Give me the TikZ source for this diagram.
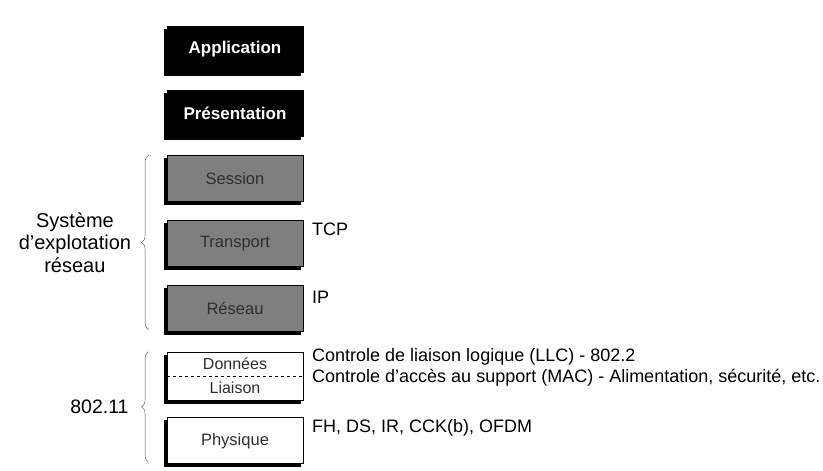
\documentclass[tikz,border=0pt]{standalone}
\usepackage{fontspec}
\setmainfont{Liberation Sans}
\usepackage{tikz}
\usetikzlibrary{positioning, calc, decorations.pathreplacing}

\definecolor{layergray}{HTML}{7F7F7F}
\definecolor{labelgray}{HTML}{2E2E2E}

\begin{document}
\begin{tikzpicture}[
  x=1pt, y=-1pt,
  node distance=18pt,
  layer/.style={rectangle, draw, thick, minimum width=136pt, minimum height=46pt,
    inner sep=0pt, preaction={draw, fill=black,
    transform canvas={shift={(-3pt,-3pt)}}}},
  toplayer/.style={layer, fill=black, text=white,
    font=\fontsize{17}{19}\selectfont\bfseries},
  oslayer/.style={layer, fill=layergray, text=labelgray,
    font=\fontsize{16.5}{18}\selectfont},
  wifilayer/.style={layer, fill=white, text=labelgray,
    font=\fontsize{16.5}{18}\selectfont},
  side/.style={font=\fontsize{18}{20}\selectfont, inner sep=0pt, anchor=west},
  group/.style={decorate, decoration={brace, amplitude=7pt}, thin, black!70}
]
  \useasboundingbox (0,0) rectangle (823,471);

  \node[toplayer] (app) at (235,49) {Application};
  \node[toplayer, below=of app] (pres) {Présentation};
  \node[oslayer, below=of pres] (sess) {Session};
  \node[oslayer, below=of sess] (trans) {Transport};
  \node[oslayer, below=of trans] (net) {Réseau};
  \node[wifilayer, below=20pt of net, minimum height=48pt] (link) {};
  \node[wifilayer, below=17pt of link] (phys) {Physique};

  % two halves of the data link layer
  \draw[dashed, thick] (link.west) -- (link.east);
  \node[font=\fontsize{16}{18}\selectfont, text=labelgray] (llc)
    at ($(link.center)!0.5!(link.north)$) {Données};
  \node[font=\fontsize{16}{18}\selectfont, text=labelgray] (mac)
    at ($(link.center)!0.5!(link.south)$) {Liaison};

  % groups on the left
  \coordinate (osbot) at ($(net.south west)+(-18,-2)$);
  \coordinate (ostop) at ($(sess.north west)+(-18,0)$);
  \draw[group] (osbot) -- (ostop);
  \node[font=\fontsize{20}{22.5}\selectfont, align=center, anchor=east] (nos)
    at ($(osbot)!0.5!(ostop)+(-14,0)$) {Système\\d'explotation\\réseau};

  \coordinate (wbot) at ($(phys.south west)+(-18,-2)$);
  \coordinate (wtop) at ($(link.north west)+(-18,0)$);
  \draw[group] (wbot) -- (wtop);
  \node[font=\fontsize{19.5}{23}\selectfont, anchor=east] (std)
    at ($(wbot)!0.5!(wtop)+(-16.5,0)$) {802.11};

  % protocols on the right
  \node[side] (tcp) at (312,229) {TCP};
  \node[side] (ip) at (312,297) {IP};
  \node[side] (llctxt) at (312,357) {Controle de liaison logique (LLC) - 802.2};
  \node[side] (mactxt) at (312,378) {Controle d'accès au support (MAC) - Alimentation, sécurité, etc.};
  \node[side] (phytxt) at (312,428) {FH, DS, IR, CCK(b), OFDM};
\end{tikzpicture}
\end{document}
